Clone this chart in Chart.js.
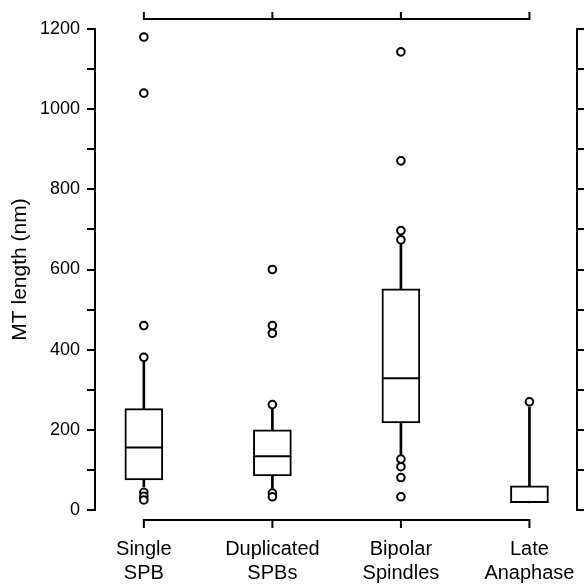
<!DOCTYPE html>
<html>
<head>
<meta charset="utf-8">
<script src="https://cdn.jsdelivr.net/npm/chart.js@4/dist/chart.umd.min.js"></script>
<style>
  html, body { margin: 0; padding: 0; background: #fff; }
  #wrap { width: 584px; height: 585px; position: relative; }
</style>
</head>
<body>
<div id="wrap"><canvas id="chart"></canvas></div>
<script>
// categories (two-line labels)
const categories = [["Single", "SPB"], ["Duplicated", "SPBs"], ["Bipolar", "Spindles"], ["Late", "Anaphase"]];

// box statistics (nm)
const lowerWhisker = [58, 54, 137, 18];
const q1 = [75, 85, 217, 18];
const medians = [156, 134, 329, 20];
const q3 = [253, 200, 552, 60];
const upperWhisker = [385, 251, 668, 257];

// outliers per category
const outliers = [
    [1180, 1040, 460, 381, 44, 34, 25],
    [600, 460, 441, 263, 42, 33],
    [1143, 871, 697, 674, 127, 108, 81, 33],
    [270]
];

const yTicksMax = 1200;
const yTickStep = 100;

const FONT = "'Liberation Sans', Arial, Helvetica, sans-serif";
Chart.defaults.color = "#000";
Chart.defaults.font.family = FONT;

const idx = categories.map((c, i) => i);

// draws median lines and the detached top/bottom axis lines
const boxExtras = {
    id: "boxExtras",
    afterDatasetsDraw(chart) {
        const ctx = chart.ctx;
        const x = chart.scales.x;
        const y = chart.scales.y;
        const boxMeta = chart.getDatasetMeta(1);
        ctx.save();
        ctx.strokeStyle = "#000";
        ctx.lineWidth = 2;
        medians.forEach((m, i) => {
            const el = boxMeta.data[i];
            const py = y.getPixelForValue(m);
            ctx.beginPath();
            ctx.moveTo(el.x - el.width / 2, py);
            ctx.lineTo(el.x + el.width / 2, py);
            ctx.stroke();
        });

        const area = chart.chartArea;
        const x0 = x.getPixelForValue(0);
        const x1 = x.getPixelForValue(categories.length - 1);
        const bottomY = area.bottom + 10;
        const topY = area.top - 10;
        ctx.beginPath();
        ctx.moveTo(x0, bottomY);
        ctx.lineTo(x1, bottomY);
        ctx.moveTo(x0, topY);
        ctx.lineTo(x1, topY);
        idx.forEach(i => {
            const px = x.getPixelForValue(i);
            ctx.moveTo(px, bottomY - 1);
            ctx.lineTo(px, bottomY + 8);
            ctx.moveTo(px, topY + 1);
            ctx.lineTo(px, topY - 7);
        });
        ctx.stroke();
        ctx.restore();
    }
};

const yAxisCommon = {
    type: "linear",
    min: 0,
    max: yTicksMax,
    border: { display: true, color: "#000", width: 2 },
    grid: { display: true, drawOnChartArea: false, drawTicks: true, tickLength: 8, color: "#000", lineWidth: 2 },
};

new Chart(document.getElementById("chart"), {
    type: "bar",
    data: {
        datasets: [
            {
                type: "scatter",
                data: outliers.flatMap((list, i) => list.map(v => ({ x: i, y: v }))),
                pointRadius: 3.8,
                pointBorderWidth: 2,
                pointBorderColor: "#000",
                pointBackgroundColor: "#fff",
                showLine: false
            },
            {
                type: "bar",
                data: idx.map(i => ({ x: i, y: [q1[i], q3[i]] })),
                backgroundColor: "#fff",
                borderColor: "#000",
                borderWidth: 2,
                borderSkipped: false,
                barThickness: 38,
                grouped: false
            },
            {
                type: "bar",
                data: idx.map(i => ({ x: i, y: [q3[i], upperWhisker[i]] })),
                backgroundColor: "#000",
                borderWidth: 0,
                barThickness: 2,
                grouped: false
            },
            {
                type: "bar",
                data: idx.map(i => ({ x: i, y: [lowerWhisker[i], q1[i]] })),
                backgroundColor: "#000",
                borderWidth: 0,
                barThickness: 2,
                grouped: false
            }
        ]
    },
    options: {
        responsive: true,
        maintainAspectRatio: false,
        animation: false,
        layout: { padding: { top: 29, left: 0, right: 0, bottom: 0 } },
        plugins: { legend: { display: false }, tooltip: { enabled: false } },
        scales: {
            x: {
                type: "linear",
                position: "bottom",
                min: -0.38,
                max: 3.37,
                offset: false,
                grid: { display: false, drawTicks: false },
                border: { display: false },
                afterBuildTicks: scale => { scale.ticks = idx.map(i => ({ value: i })); },
                afterFit: scale => {
                    scale.height = 75;
                    scale.paddingLeft = 0;
                    scale.paddingRight = 0;
                },
                ticks: {
                    autoSkip: false,
                    maxRotation: 0,
                    padding: 27,
                    font: { size: 20, lineHeight: 1.2 },
                    callback: v => categories[v]
                }
            },
            y: {
                ...yAxisCommon,
                position: "left",
                afterFit: scale => { scale.width = 95; },
                ticks: {
                    stepSize: yTickStep,
                    padding: 7,
                    font: { size: 18 },
                    callback: v => (v % 200 === 0 ? String(v) : "")
                },
                title: {
                    display: true,
                    text: "MT length (nm)",
                    font: { size: 21 },
                    padding: { top: 8, bottom: 0 }
                }
            },
            y2: {
                ...yAxisCommon,
                position: "right",
                afterFit: scale => { scale.width = 7; },
                ticks: { stepSize: yTickStep, display: false }
            }
        }
    },
    plugins: [boxExtras]
});
</script>
</body>
</html>
